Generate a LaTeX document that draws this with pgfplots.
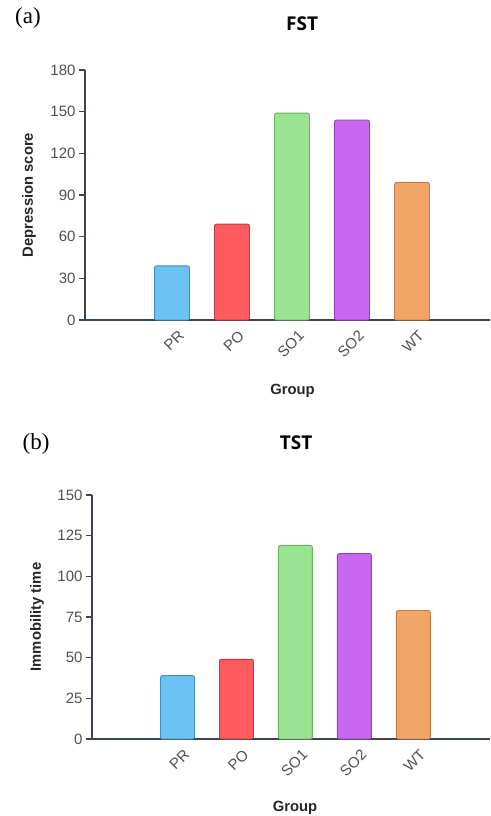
\documentclass[border=0pt]{standalone}
\usepackage{fontspec}
\setmainfont{Liberation Sans}
\newfontfamily\titlefont{Open Sans}
\newfontfamily\panelfont{Liberation Serif}
\usepackage{pgfplots}
\pgfplotsset{compat=1.18}
\definecolor{axisgray}{HTML}{3D4450}
\definecolor{ticktext}{HTML}{505050}
\definecolor{cblue}{HTML}{6CC3F3}\definecolor{eblue}{HTML}{3E8FC0}
\definecolor{cred}{HTML}{FF5B5E}\definecolor{ered}{HTML}{C0393D}
\definecolor{cgreen}{HTML}{9AE391}\definecolor{egreen}{HTML}{6DB063}
\definecolor{cpurple}{HTML}{C967F0}\definecolor{epurple}{HTML}{9440B8}
\definecolor{corange}{HTML}{F3A469}\definecolor{eorange}{HTML}{C97B45}
\pgfplotsset{
  mybars/.style={
    scale only axis,
    anchor=south west,
    axis lines*=left,
    axis line style={color=axisgray, line width=1.3pt},
    ybar,
    ymin=0,
    xmin=-1.45, xmax=5.3,
    xtick={0,1,2,3,4},
    xticklabels={PR,PO,SO1,SO2,WT},
    x tick style={draw=none},
    y tick style={color=axisgray, line width=1.3pt},
    tick align=outside,
    major tick length=6pt,
    /pgf/number format/assume math mode=true,
    tick label style={font=\fontsize{15}{18}\selectfont, color=ticktext},
    x tick label style={rotate=45, anchor=north east, xshift=5pt, yshift=-3pt},
    label style={font=\fontsize{14.8}{18}\selectfont\bfseries, color=black!85},
    title style={font=\fontsize{19}{22}\selectfont\titlefont\bfseries, anchor=center},
    xlabel={Group},
    clip=false,
  },
  onebar/.style 2 args={bar shift=0pt, fill=#1, draw=#2, line width=0.9pt, rounded corners=2pt},
}
\begin{document}
\begin{tikzpicture}
\path[use as bounding box] (0pt,0pt) rectangle (490pt,-816pt);
\node[font=\fontsize{23}{26}\selectfont\panelfont] at (28pt,-18pt) {(a)};
\node[font=\fontsize{23}{26}\selectfont\panelfont] at (36pt,-444pt) {(b)};
\begin{axis}[mybars,
  at={(85pt,-320pt)}, width=405pt, height=250pt,
  bar width=35pt,
  ymax=180, ytick={0,30,60,90,120,150,180},
  ylabel={Depression score},
  ylabel style={at={(rel axis cs:0,0.5)}, anchor=center, yshift=56pt},
  xlabel style={at={(rel axis cs:0.5,0)}, anchor=center, xshift=5pt, yshift=-71pt},
  title={FST},
  title style={at={(rel axis cs:0.536,1)}, yshift=40pt},
]
\addplot[onebar={cblue}{eblue}] coordinates {(0,39)};
\addplot[onebar={cred}{ered}] coordinates {(1,69)};
\addplot[onebar={cgreen}{egreen}] coordinates {(2,149)};
\addplot[onebar={cpurple}{epurple}] coordinates {(3,144)};
\addplot[onebar={corange}{eorange}] coordinates {(4,99)};
\end{axis}
\begin{axis}[mybars,
  at={(92pt,-739pt)}, width=398pt, height=244pt,
  bar width=34pt,
  ymax=150, ytick={0,25,50,75,100,125,150},
  ylabel={Immobility time},
  ylabel style={at={(rel axis cs:0,0.5)}, anchor=center, yshift=55pt},
  xlabel style={at={(rel axis cs:0.5,0)}, anchor=center, xshift=4pt, yshift=-69pt},
  title={TST},
  title style={at={(rel axis cs:0.513,1)}, yshift=46pt},
]
\addplot[onebar={cblue}{eblue}] coordinates {(0,39)};
\addplot[onebar={cred}{ered}] coordinates {(1,49)};
\addplot[onebar={cgreen}{egreen}] coordinates {(2,119)};
\addplot[onebar={cpurple}{epurple}] coordinates {(3,114)};
\addplot[onebar={corange}{eorange}] coordinates {(4,79)};
\end{axis}
\end{tikzpicture}
\end{document}
